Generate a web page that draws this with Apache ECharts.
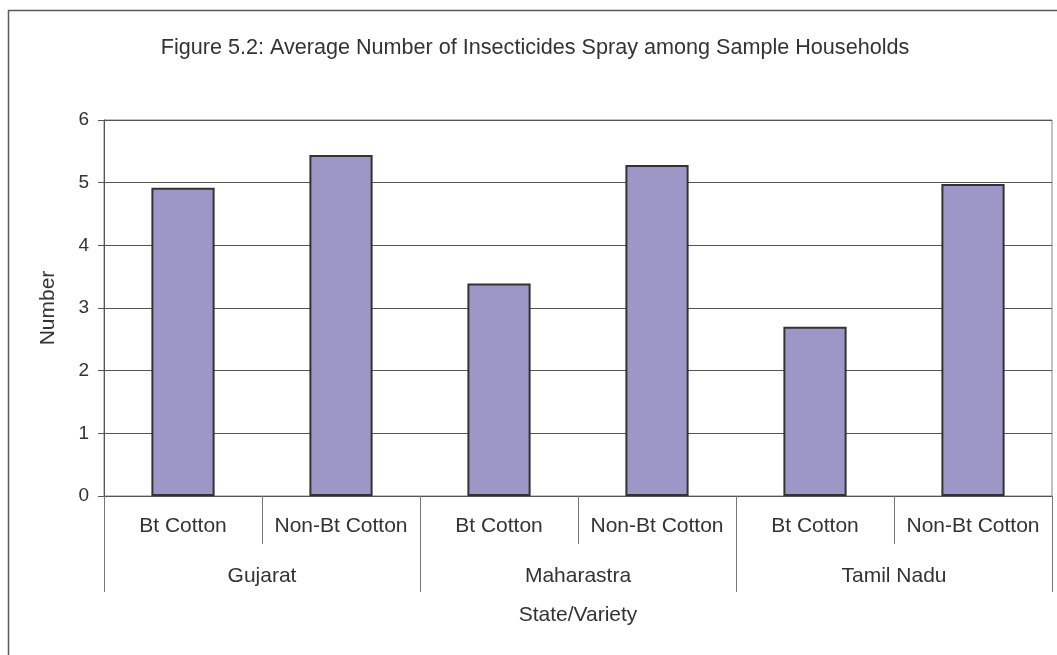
<!DOCTYPE html>
<html>
<head>
<meta charset="utf-8">
<script src="https://cdn.jsdelivr.net/npm/echarts@6/dist/echarts.min.js"></script>
<style>
  html, body { margin: 0; padding: 0; background: #fff; }
  #chart { width: 1057px; height: 655px; }
</style>
</head>
<body>
<div id="chart"></div>
<script>
// Average number of insecticide sprays per household, by state and cotton variety
const states = ['Gujarat', 'Maharastra', 'Tamil Nadu'];
const varieties = ['Bt Cotton', 'Non-Bt Cotton', 'Bt Cotton', 'Non-Bt Cotton', 'Bt Cotton', 'Non-Bt Cotton'];
const sprays = [4.92, 5.44, 3.39, 5.28, 2.70, 4.98];
const yTicks = { min: 0, max: 6, interval: 1 };

const FONT = "'Liberation Sans', Arial, sans-serif";
const TEXT = '#333333';

const chart = echarts.init(document.getElementById('chart'), null, { renderer: 'canvas' });

chart.setOption({
  animation: false,
  backgroundColor: '#ffffff',
  textStyle: { fontFamily: FONT },
  graphic: [
    {
      type: 'rect',
      shape: { x: 8.5, y: 10.5, width: 1200, height: 800 },
      style: { fill: 'none', stroke: '#5a5a5a', lineWidth: 1.5 },
      silent: true
    },
    {
      type: 'text',
      x: 535, y: 48,
      style: {
        text: 'Figure 5.2: Average Number of Insecticides Spray among Sample Households',
        fill: TEXT, font: '21.6px ' + FONT,
        textAlign: 'center', textVerticalAlign: 'middle'
      }
    }
  ],
  grid: {
    left: 104, right: 5, top: 120, bottom: 159,
    show: true, borderColor: '#8c8282', borderWidth: 1, backgroundColor: 'transparent'
  },
  xAxis: [
    {
      type: 'category',
      data: varieties,
      position: 'bottom',
      axisLine: { show: true, lineStyle: { color: '#555', width: 1 } },
      axisTick: { show: true, interval: 0, length: 48, lineStyle: { color: '#777', width: 1 } },
      axisLabel: { interval: 0, margin: 20, color: TEXT, fontSize: 21, fontFamily: FONT }
    },
    {
      type: 'category',
      data: states,
      position: 'bottom',
      axisLine: { show: false },
      axisTick: { show: true, interval: 0, length: 96, lineStyle: { color: '#777', width: 1 } },
      axisLabel: { interval: 0, margin: 70, color: TEXT, fontSize: 21, fontFamily: FONT },
      name: 'State/Variety',
      nameLocation: 'middle',
      nameGap: 109,
      nameTextStyle: { color: TEXT, fontSize: 21, fontFamily: FONT }
    }
  ],
  yAxis: {
    type: 'value',
    min: yTicks.min, max: yTicks.max, interval: yTicks.interval,
    name: 'Number',
    nameLocation: 'middle',
    nameGap: 45,
    nameTextStyle: { color: TEXT, fontSize: 21, fontFamily: FONT },
    axisLine: { show: true, lineStyle: { color: '#555', width: 1 } },
    axisTick: { show: true, length: 6, lineStyle: { color: '#555' } },
    axisLabel: { margin: 15, color: TEXT, fontSize: 19, fontFamily: FONT },
    splitLine: { show: true, lineStyle: { color: '#555', width: 1 } }
  },
  series: [
    {
      type: 'bar',
      xAxisIndex: 0,
      data: sprays,
      barWidth: '40%',
      itemStyle: { color: '#9d97c8', borderColor: '#333', borderWidth: 2 }
    }
  ]
});
</script>
</body>
</html>
